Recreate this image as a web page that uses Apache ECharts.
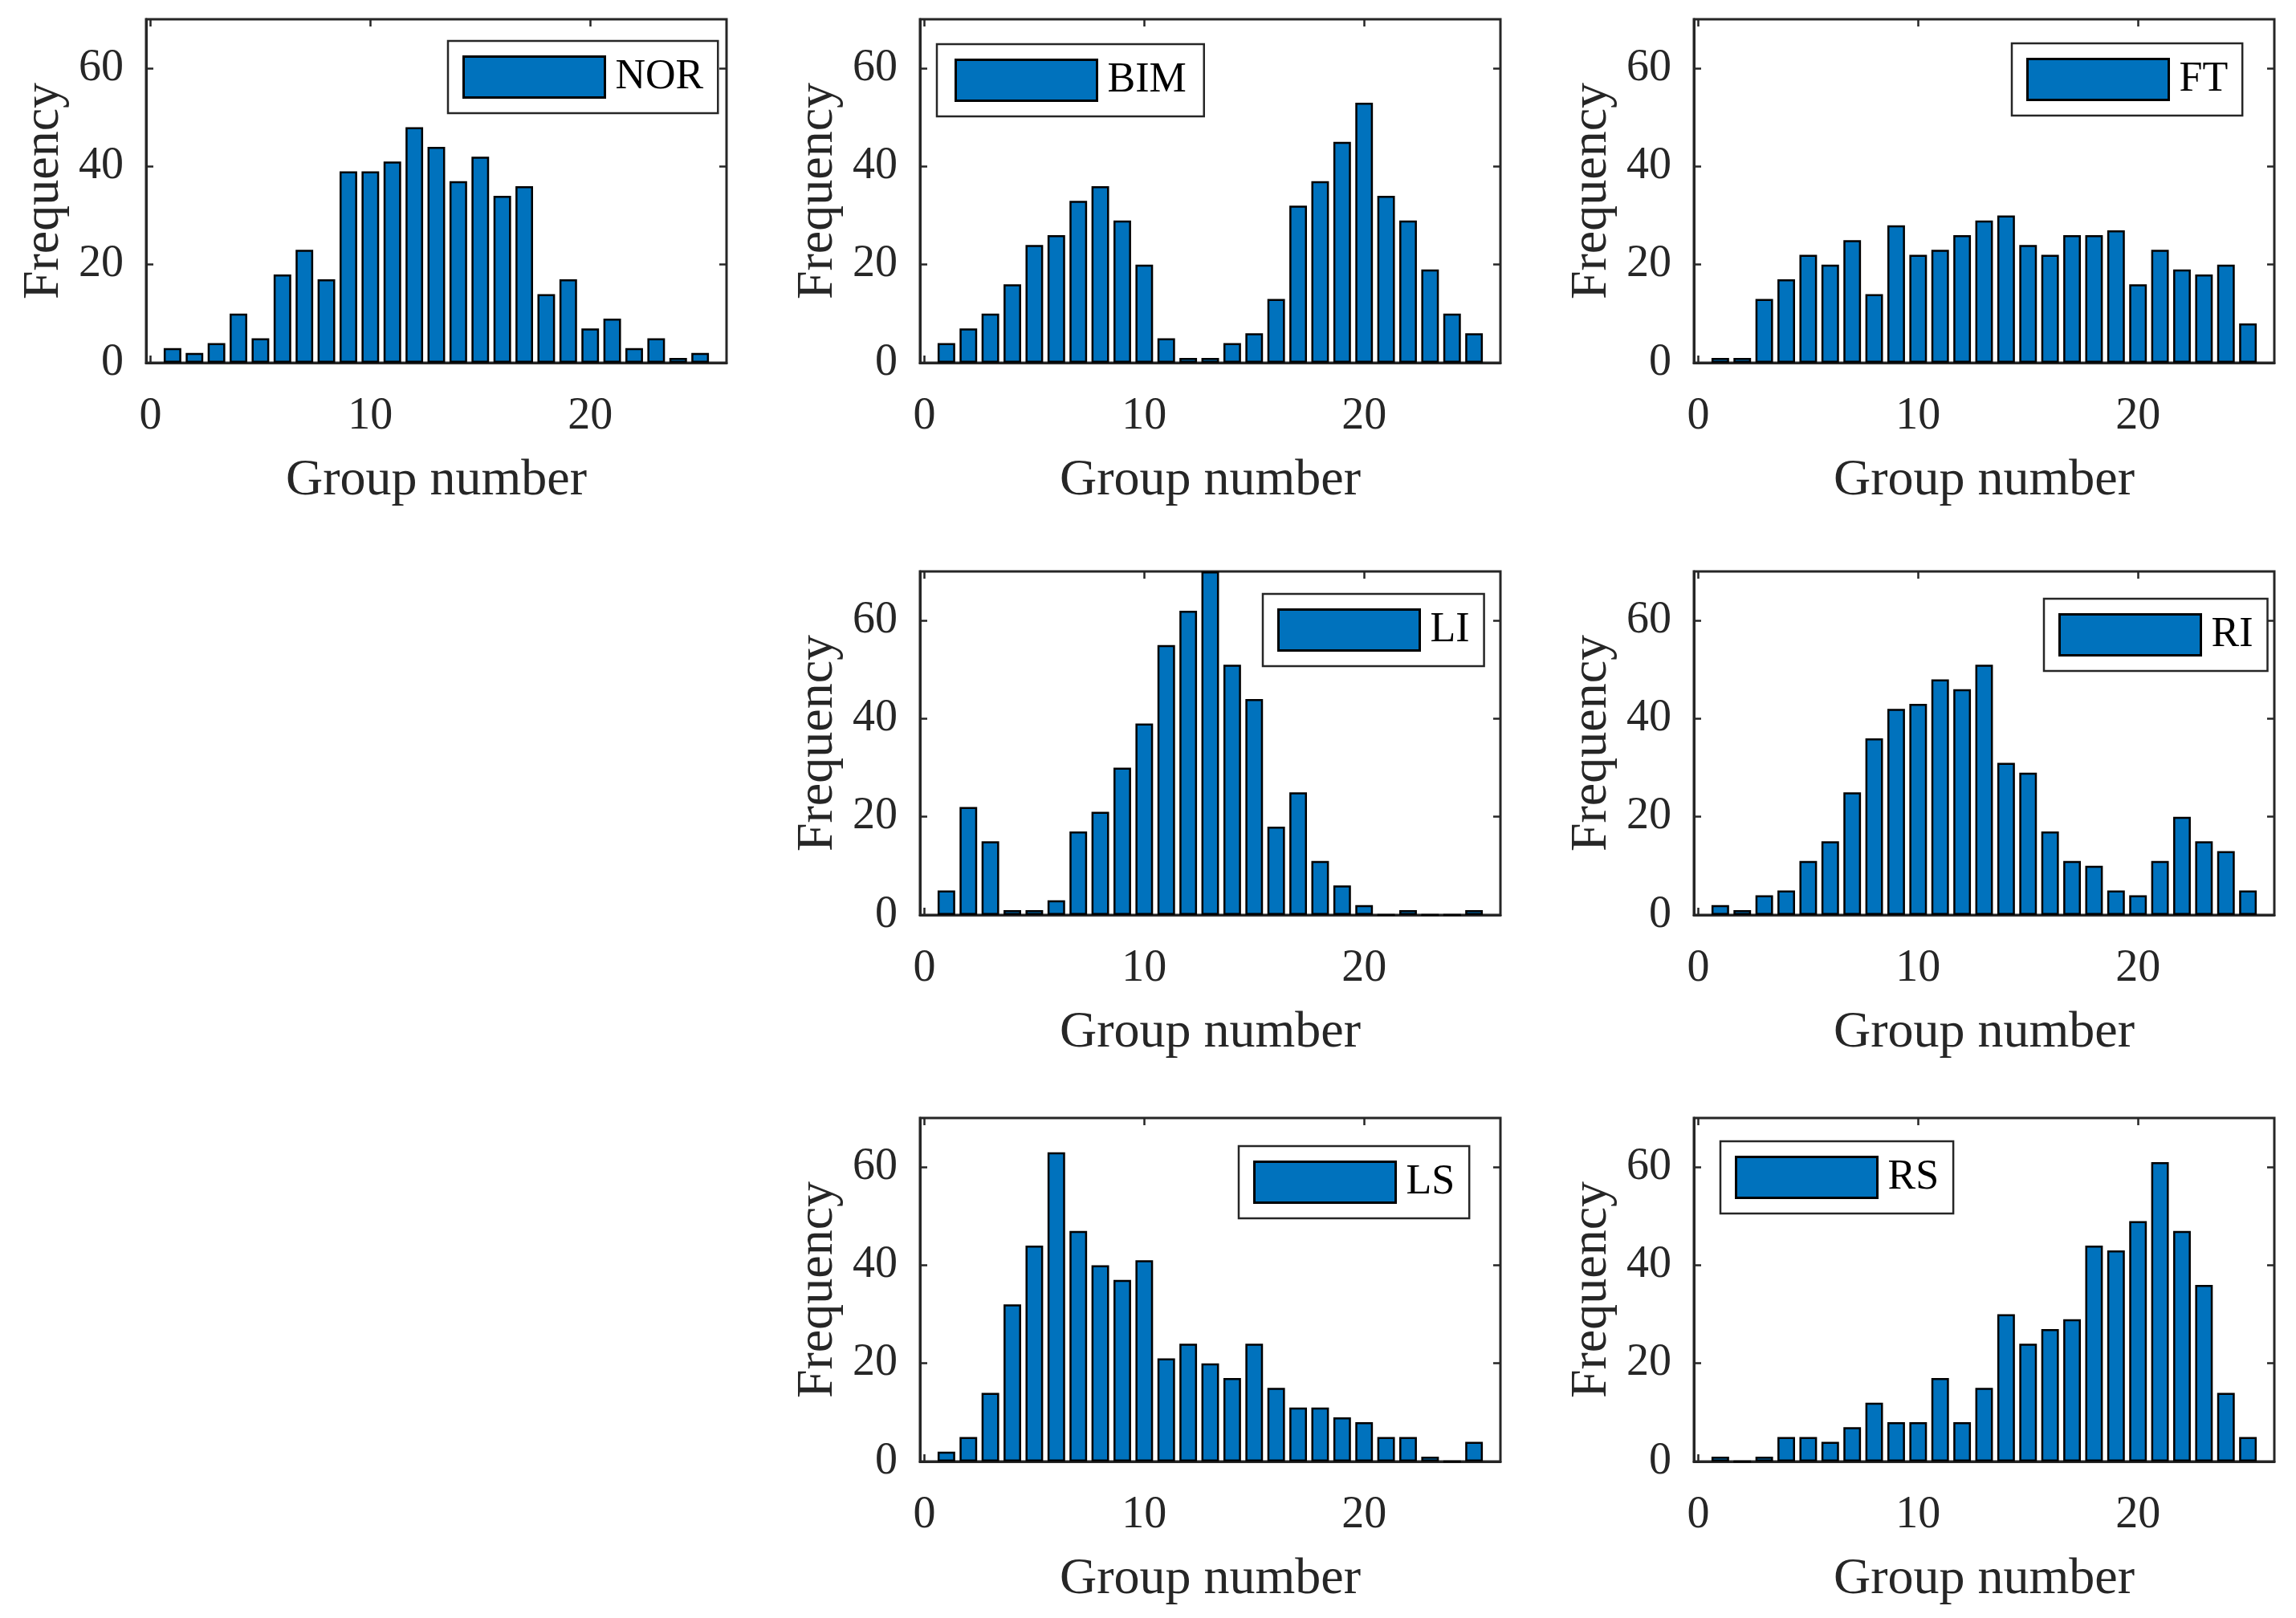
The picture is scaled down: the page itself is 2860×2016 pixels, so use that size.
<!DOCTYPE html>
<html><head><meta charset="utf-8">
<script src="https://cdn.jsdelivr.net/npm/echarts@6/dist/echarts.min.js"></script>
<style>html,body{margin:0;padding:0;background:#fff}#c{width:2860px;height:2016px}</style>
</head><body><div id="c"></div>
<script>
const groupNumbers = [1,2,3,4,5,6,7,8,9,10,11,12,13,14,15,16,17,18,19,20,21,22,23,24,25];
const NOR = [3,2,4,10,5,18,23,17,39,39,41,48,44,37,42,34,36,14,17,7,9,3,5,1,2];
const BIM = [4,7,10,16,24,26,33,36,29,20,5,1,1,4,6,13,32,37,45,53,34,29,19,10,6];
const FT  = [1,1,13,17,22,20,25,14,28,22,23,26,29,30,24,22,26,26,27,16,23,19,18,20,8];
const LI  = [5,22,15,1,1,3,17,21,30,39,55,62,70,51,44,18,25,11,6,2,0,1,0,0,1];
const RI  = [2,1,4,5,11,15,25,36,42,43,48,46,51,31,29,17,11,10,5,4,11,20,15,13,5];
const LS  = [2,5,14,32,44,63,47,40,37,41,21,24,20,17,24,15,11,11,9,8,5,5,1,0,4];
const RS  = [1,0,1,5,5,4,7,12,8,8,17,8,15,30,24,27,29,44,43,49,61,47,36,14,5];
const xTicks = [0,10,20];
const yTicks = [0,20,40,60];
const xLabel = 'Group number';
const yLabel = 'Frequency';

const panels = [
  {name:'NOR', values:NOR, left:182,  top:24,   lg:{left:558,  top:51,   pad:[18,18,18,18], tp:[0,4,0,8]}},
  {name:'BIM', values:BIM, left:1146, top:24,   lg:{left:1167, top:55,   pad:[18,22,18,22], tp:[0,12,0,8]}},
  {name:'FT',  values:FT,  left:2110, top:24,   lg:{left:2506, top:54,   pad:[18,18,18,18], tp:[0,4,0,8]}},
  {name:'LI',  values:LI,  left:1146, top:712,  lg:{left:1573, top:740,  pad:[18,18,18,18], tp:[0,4,0,8]}},
  {name:'RI',  values:RI,  left:2110, top:712,  lg:{left:2546, top:746,  pad:[18,18,18,18], tp:[0,4,0,8]}},
  {name:'LS',  values:LS,  left:1146, top:1393, lg:{left:1543, top:1428, pad:[18,18,18,18], tp:[0,4,0,8]}},
  {name:'RS',  values:RS,  left:2110, top:1393, lg:{left:2143, top:1422, pad:[18,18,18,18], tp:[0,4,0,8]}}
];
const W = 723, H = 428, XMIN = -0.2, XMAX = 26.2, YMIN = 0, YMAX = 70;
const barPx = W / (XMAX - XMIN) * 0.8;
const FONT = "'Liberation Serif','Times New Roman',serif";
const AX = '#262626';

const grid = [], xAxis = [], yAxis = [], series = [], legend = [];
panels.forEach((p, i) => {
  grid.push({left:p.left, top:p.top, width:W, height:H, show:true, borderColor:AX, borderWidth:3, backgroundColor:'transparent'});
  const tick = {show:true, inside:true, length:9, lineStyle:{color:AX, width:2.5}};
  xAxis.push({gridIndex:i, type:'value', min:XMIN, max:XMAX, position:'bottom',
    name:xLabel, nameLocation:'middle', nameGap:115,
    nameTextStyle:{fontFamily:FONT, fontSize:64, color:AX},
    axisLine:{show:true, onZero:false, lineStyle:{color:AX, width:3}},
    axisTick:Object.assign({customValues:xTicks}, tick),
    axisLabel:{customValues:xTicks, fontFamily:FONT, fontSize:56, color:AX, margin:39},
    splitLine:{show:false}});
  xAxis.push({gridIndex:i, type:'value', min:XMIN, max:XMAX, position:'top',
    axisLine:{show:false, onZero:false},
    axisTick:Object.assign({customValues:xTicks}, tick),
    axisLabel:{show:false}, splitLine:{show:false}});
  yAxis.push({gridIndex:i, type:'value', min:YMIN, max:YMAX, position:'left',
    name:yLabel, nameLocation:'middle', nameGap:95,
    nameTextStyle:{fontFamily:FONT, fontSize:64, color:AX},
    axisLine:{show:true, onZero:false, lineStyle:{color:AX, width:3}},
    axisTick:Object.assign({customValues:yTicks}, tick),
    axisLabel:{customValues:yTicks, fontFamily:FONT, fontSize:56, color:AX, margin:28, padding:[9,0,0,0]},
    splitLine:{show:false}});
  yAxis.push({gridIndex:i, type:'value', min:YMIN, max:YMAX, position:'right',
    axisLine:{show:false, onZero:false},
    axisTick:Object.assign({customValues:yTicks}, tick),
    axisLabel:{show:false}, splitLine:{show:false}});
  series.push({type:'bar', name:p.name, xAxisIndex:2*i, yAxisIndex:2*i,
    data: groupNumbers.map((g, k) => [g, p.values[k]]),
    barWidth: barPx,
    itemStyle:{color:'#0072BD', borderColor:'#000', borderWidth:2.5},
    emphasis:{disabled:true}});
  legend.push({data:[p.name], left:p.lg.left, top:p.lg.top, icon:'rect',
    itemWidth:176, itemHeight:51, padding:p.lg.pad, borderColor:AX, borderWidth:2.5,
    backgroundColor:'#fff', selectedMode:false,
    itemStyle:{borderColor:'#000', borderWidth:3},
    textStyle:{fontFamily:FONT, fontSize:52, color:'#000', padding:p.lg.tp}});
});

const chart = echarts.init(document.getElementById('c'));
chart.setOption({animation:false, backgroundColor:'#fff', grid, xAxis, yAxis, series, legend});
</script></body></html>
